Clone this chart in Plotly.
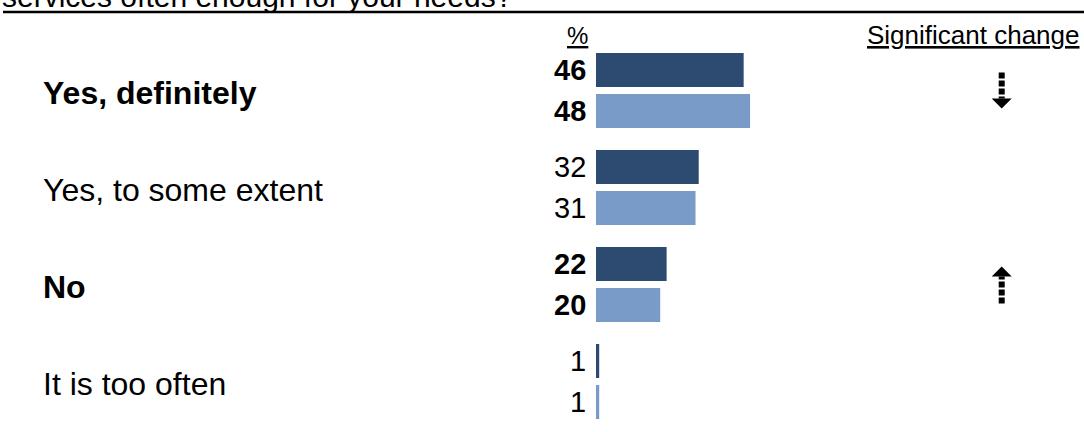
import plotly.graph_objects as go

categories = ["Yes, definitely", "Yes, to some extent", "No", "It is too often"]
series_names = ["Current", "Previous"]
values_current = [46, 32, 22, 1]
values_previous = [48, 31, 20, 1]
significance = ["down", "", "up", ""]
title_text = "services often enough for your needs?"

colors = ["#2D4A70", "#789BC8"]
FONT = "Liberation Sans, Arial, sans-serif"

W, H = 1084, 432
ML, MR, MT, MB = 596, 0, 42, 2
plot_w = W - ML - MR
plot_h = H - MT - MB
px_per_unit = 3.21
xmax = plot_w / px_per_unit
bargap = 0.155
bargroupgap = 0.171

ypos = list(range(len(categories)))
fig = go.Figure()
for name, vals, col in zip(series_names, [values_current, values_previous], colors):
    fig.add_trace(go.Bar(
        y=ypos, x=vals, orientation="h", name=name,
        marker=dict(color=col, line=dict(width=0)),
        hoverinfo="skip",
    ))

fig.update_layout(
    width=W, height=H,
    margin=dict(l=ML, r=MR, t=MT, b=MB, pad=0),
    barmode="group", bargap=bargap, bargroupgap=bargroupgap,
    plot_bgcolor="white", paper_bgcolor="white",
    showlegend=False,
    font=dict(family=FONT, color="black"),
    xaxis=dict(range=[0, xmax], visible=False, fixedrange=True),
    yaxis=dict(range=[len(categories) - 0.5, -0.5], visible=False, fixedrange=True),
)

def px_to_xpaper(px):
    return (px - ML) / plot_w

def px_to_ypaper(py):
    return 1 + (MT - py) / plot_h

slot_off = (1 - bargap) / 4
annotations = []
shapes = []
for i, cat in enumerate(categories):
    bold = significance[i] != ""
    txt = f"<b>{cat}</b>" if bold else cat
    annotations.append(dict(x=px_to_xpaper(41), xref="paper", y=i, yref="y",
                            text=txt, showarrow=False, xanchor="left", yanchor="middle",
                            yshift=-2, font=dict(size=32, family=FONT, color="black")))
    for k, vals in enumerate([values_current, values_previous]):
        off = -slot_off if k == 0 else slot_off
        vt = f"<b>{vals[i]}</b>" if bold else str(vals[i])
        annotations.append(dict(x=0, xref="x", y=i + off, yref="y", text=vt,
                                showarrow=False, xanchor="right", yanchor="middle",
                                xshift=-8, font=dict(size=29, family=FONT, color="black")))
    # significance arrows
    if significance[i]:
        ax = px_to_xpaper(1001.7)
        hw = 10 / plot_w
        L = 0.186
        hl = 0.104
        if significance[i] == "down":
            shaft = (i - L, i + L - hl)
            head = f"M {ax - hw},{i + L - hl} L {ax + hw},{i + L - hl} L {ax},{i + L} Z"
        else:
            shaft = (i + L + 0.01, i - L + hl)
            head = f"M {ax - hw},{i - L + hl} L {ax + hw},{i - L + hl} L {ax},{i - L} Z"
        shapes.append(dict(type="line", xref="paper", yref="y", x0=ax, x1=ax,
                           y0=shaft[0], y1=shaft[1],
                           line=dict(color="black", width=6, dash="6px,2px")))
        shapes.append(dict(type="path", xref="paper", yref="y", path=head,
                           fillcolor="black", line=dict(width=0)))

# header labels
annotations.append(dict(x=px_to_xpaper(577), xref="paper", y=px_to_ypaper(35), yref="paper",
                        text="<u>%</u>", showarrow=False, xanchor="center", yanchor="middle",
                        font=dict(size=24, family=FONT, color="black")))
annotations.append(dict(x=px_to_xpaper(1081), xref="paper", y=px_to_ypaper(35), yref="paper",
                        text="<u>Significant change</u>", showarrow=False, xanchor="right",
                        yanchor="middle", font=dict(size=26, family=FONT, color="black")))
# cut-off question text (partially hidden above the top edge, as in the reference)
annotations.append(dict(x=px_to_xpaper(0), xref="paper", y=px_to_ypaper(-3), yref="paper",
                        text=title_text, showarrow=False, xanchor="left", yanchor="middle",
                        font=dict(size=30, family=FONT, color="black")))
shapes.append(dict(type="line", xref="paper", yref="paper",
                   x0=px_to_xpaper(3), x1=1, y0=px_to_ypaper(12), y1=px_to_ypaper(12),
                   line=dict(color="black", width=2.5)))

fig.update_layout(annotations=annotations, shapes=shapes)
fig.write_html("out.html", config={"displayModeBar": False},
               post_script="document.body.style.margin='0px';document.body.style.overflow='hidden';")
